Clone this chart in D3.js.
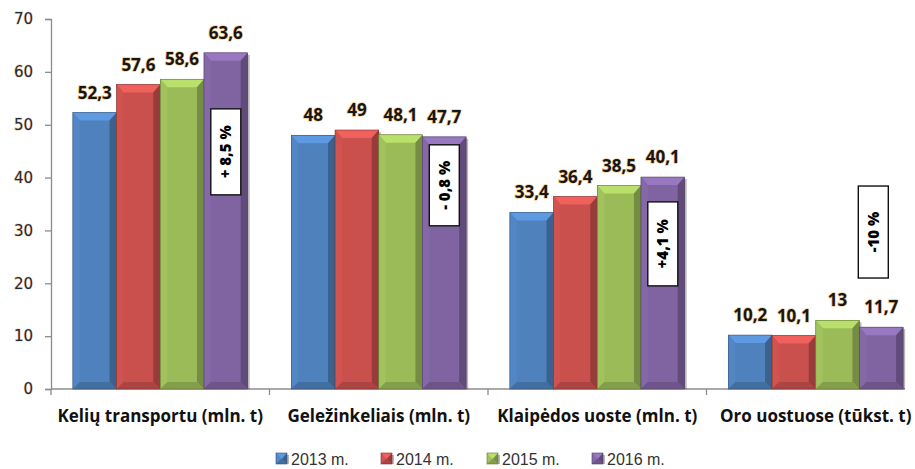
<!DOCTYPE html>
<html>
<head>
<meta charset="utf-8">
<script src="https://cdn.jsdelivr.net/npm/d3@7/dist/d3.min.js"></script>
<style>
  html, body { margin: 0; padding: 0; background: #fff; }
  svg { display: block; }
</style>
</head>
<body>
<svg id="chart" width="915" height="469"></svg>
<script>
// ---- Data ----
const categories = ["Kelių transportu (mln. t)", "Geležinkeliais (mln. t)", "Klaipėdos uoste (mln. t)", "Oro uostuose (tūkst. t)"];
const years = ["2013 m.", "2014 m.", "2015 m.", "2016 m."];
const values2013 = [52.3, 48, 33.4, 10.2];
const values2014 = [57.6, 49, 36.4, 10.1];
const values2015 = [58.6, 48.1, 38.5, 13];
const values2016 = [63.6, 47.7, 40.1, 11.7];
const changeLabels = ["+ 8,5 %", "- 0,8 %", "+4,1 %", "-10 %"];
const yTicks = [0, 10, 20, 30, 40, 50, 60, 70];

const series = [values2013, values2014, values2015, values2016];
const colors = ["#4f81bd", "#c9504d", "#9bbb59", "#8064a2"];

(function () {
// ---- Layout ----
const plotLeft = 51, bandRight = 925, axisRight = 905, plotTop = 19, plotBottom = 389;
const svg = d3.select("#chart");

const x0 = d3.scaleBand().domain(categories).range([plotLeft, bandRight]).paddingInner(0).paddingOuter(0);
const x1 = d3.scaleBand().domain(years).range([0, x0.bandwidth()]).paddingInner(0).paddingOuter(0.5);
const y = d3.scaleLinear().domain([0, 70]).range([plotBottom, plotTop]);

const fmt = v => String(v).replace(".", ",");

// ---- Y axis ----
const yAxis = svg.append("g").attr("transform", `translate(${plotLeft},0)`)
  .call(d3.axisLeft(y).tickValues(yTicks).tickSize(6).tickPadding(12).tickFormat(d => d));
yAxis.select(".domain").attr("stroke", "#8c8c8c").attr("stroke-width", 1.3);
yAxis.selectAll(".tick line").attr("stroke", "#8c8c8c").attr("stroke-width", 1.3);
yAxis.selectAll(".tick text")
  .attr("font-family", "DejaVu Sans, Verdana, sans-serif")
  .attr("font-size", 15)
  .attr("fill", "#1f2a38")
  .attr("stroke", "#f3d7b0").attr("stroke-width", 1.2).attr("paint-order", "stroke");

// ---- X axis ----
const xg = svg.append("g");
xg.append("line")
  .attr("x1", plotLeft).attr("x2", axisRight).attr("y1", y(0)).attr("y2", y(0))
  .attr("stroke", "#8c8c8c").attr("stroke-width", 1.3);
categories.forEach(c => {
  xg.append("line")
    .attr("x1", x0(c)).attr("x2", x0(c)).attr("y1", y(0)).attr("y2", y(0) + 6)
    .attr("stroke", "#8c8c8c").attr("stroke-width", 1.3);
});
xg.selectAll("text.cat").data(categories).enter().append("text")
  .attr("class", "cat")
  .attr("x", d => x0(d) + x0.bandwidth() / 2)
  .attr("y", 422)
  .attr("text-anchor", "middle")
  .attr("font-family", "Open Sans, sans-serif")
  .attr("font-weight", "bold")
  .attr("font-size", 17)
  .attr("fill", "#111")
  .text(d => d);

// ---- Bars with bevel ----
function bevelBar(g, bx, by, bw, bh, color) {
  const b = Math.min(7, bh / 2);
  const c = d3.color(color);
  g.append("rect").attr("x", bx + 2).attr("y", by + 2).attr("width", bw).attr("height", Math.max(0, bh - 2))
    .attr("fill", "rgba(0,0,0,0.28)");
  g.append("rect").attr("x", bx).attr("y", by).attr("width", bw).attr("height", bh).attr("fill", color);
  g.append("polygon")
    .attr("points", [[bx, by], [bx + bw, by], [bx + bw - b, by + b + 1], [bx + b, by + b + 1]].join(" "))
    .attr("fill", c.brighter(0.5));
  g.append("polygon")
    .attr("points", [[bx, by], [bx + b, by + b + 1], [bx + b, by + bh - b], [bx, by + bh]].join(" "))
    .attr("fill", c.brighter(0.1));
  g.append("polygon")
    .attr("points", [[bx + bw, by], [bx + bw - b, by + b + 1], [bx + bw - b, by + bh - b], [bx + bw, by + bh]].join(" "))
    .attr("fill", c.darker(0.8));
  g.append("polygon")
    .attr("points", [[bx, by + bh], [bx + b, by + bh - b], [bx + bw - b, by + bh - b], [bx + bw, by + bh]].join(" "))
    .attr("fill", c.darker(0.45));
  g.append("rect").attr("x", bx).attr("y", by).attr("width", bw).attr("height", bh)
    .attr("fill", "none").attr("stroke", c.darker(1.3)).attr("stroke-width", 0.6);
}

const barsG = svg.append("g");
categories.forEach((cat, ci) => {
  series.forEach((s, si) => {
    const bx = x0(cat) + x1(years[si]);
    const by = y(s[ci]);
    bevelBar(barsG, bx, by, x1.bandwidth(), y(0) - by, colors[si]);
  });
});

// ---- Value labels ----
const labelsG = svg.append("g");
categories.forEach((cat, ci) => {
  series.forEach((s, si) => {
    labelsG.append("text")
      .attr("x", x0(cat) + x1(years[si]) + x1.bandwidth() / 2)
      .attr("y", y(s[ci]) - 14)
      .attr("text-anchor", "middle")
      .attr("font-family", "Open Sans, sans-serif")
      .attr("font-weight", "bold")
      .attr("font-size", 17)
      .attr("fill", "#161616")
      .attr("stroke", "#f6cf95").attr("stroke-width", 1.4).attr("paint-order", "stroke")
      .text(fmt(s[ci]));
  });
});

// ---- Change annotation boxes ----
const boxTopVals = [53, 46.2, 35.4, 38.4];
const boxHeights = [86, 81, 84, 92];
const boxShift = [0, 0, 0, -8];
const boxW = 30;
const annG = svg.append("g");
categories.forEach((cat, ci) => {
  const cx = x0(cat) + x1(years[3]) + x1.bandwidth() / 2 + boxShift[ci];
  const ty = y(boxTopVals[ci]);
  annG.append("rect")
    .attr("x", cx - boxW / 2).attr("y", ty).attr("width", boxW).attr("height", boxHeights[ci])
    .attr("fill", "#fff").attr("stroke", "#111").attr("stroke-width", 1.4);
  annG.append("text")
    .attr("transform", `translate(${cx + 5.5},${ty + boxHeights[ci] / 2}) rotate(-90)`)
    .attr("text-anchor", "middle")
    .attr("font-family", "Open Sans, sans-serif")
    .attr("font-weight", "800")
    .attr("font-size", 15)
    .attr("fill", "#000")
    .text(changeLabels[ci]);
});

// ---- Legend ----
const legendX = [276, 381, 487, 592];
const legG = svg.append("g");
years.forEach((yr, i) => {
  const g = legG.append("g").attr("transform", `translate(${legendX[i]},453)`);
  bevelBar(g, 0, 0, 11, 11, colors[i]);
  g.append("text")
    .attr("x", 15).attr("y", 12)
    .attr("font-family", "Liberation Sans, Arial, sans-serif")
    .attr("font-size", 16)
    .attr("fill", "#333")
    .text(yr);
});
})();
</script>
</body>
</html>
